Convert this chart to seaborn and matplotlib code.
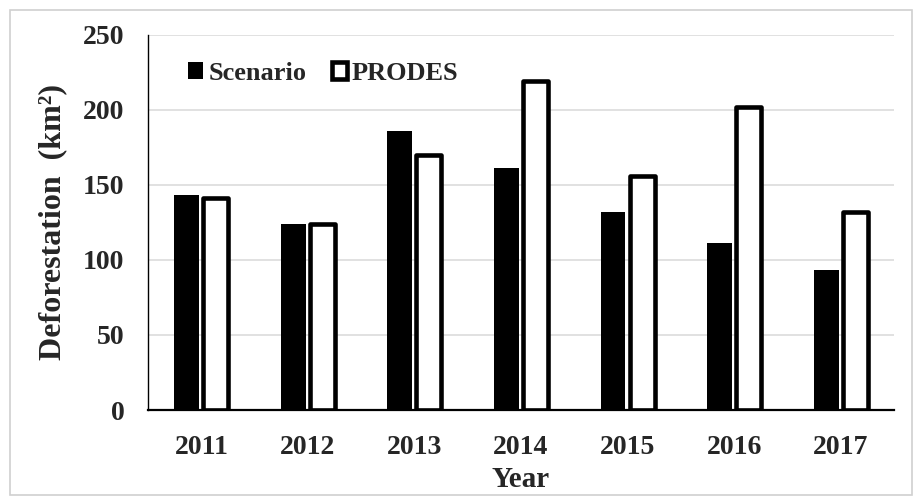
import matplotlib
matplotlib.use("Agg")
import matplotlib.pyplot as plt
import seaborn as sns
import pandas as pd
from matplotlib.patches import Rectangle

years = ["2011", "2012", "2013", "2014", "2015", "2016", "2017"]
scenario = [143, 124, 186, 161, 132, 111, 93]
prodes = [141, 124, 170, 219, 156, 202, 132]
series_names = ["Scenario", "PRODES"]
y_ticks = [0, 50, 100, 150, 200, 250]

df = pd.DataFrame({
    "Year": years * 2,
    "Value": scenario + prodes,
    "Series": [series_names[0]] * len(years) + [series_names[1]] * len(years),
})

sns.set_theme(style="white")
plt.rcParams["font.family"] = ["Liberation Serif", "DejaVu Serif"]
plt.rcParams["font.weight"] = "bold"

fig = plt.figure(figsize=(9.14, 4.97), dpi=100)
ax = fig.add_axes([0.162, 0.175, 0.816, 0.755])

sns.barplot(data=df, x="Year", y="Value", hue="Series", order=years,
            hue_order=series_names,
            palette={"Scenario": "black", "PRODES": "white"},
            width=0.545, gap=0.14, ax=ax, legend=False, linewidth=0,
            saturation=1)

for p in ax.containers[0].patches:
    p.set_edgecolor("black")
    p.set_linewidth(0)
for p in ax.containers[1].patches:
    p.set_edgecolor("black")
    p.set_linewidth(3.3)
    p.set_joinstyle("round")
    p.set_zorder(3)

ax.set_ylim(0, 250)
ax.set_yticks(y_ticks)
ax.set_xlim(-0.5, len(years) - 0.5)
ax.yaxis.grid(True, color="#d9d9d9", linewidth=1.1)
ax.set_axisbelow(True)
for s in ["top", "right"]:
    ax.spines[s].set_visible(False)
ax.spines["left"].set_color("black")
ax.spines["left"].set_linewidth(1.0)
ax.spines["bottom"].set_color("black")
ax.spines["bottom"].set_linewidth(1.6)
ax.spines["bottom"].set_zorder(4)
ax.tick_params(axis="both", length=0, labelsize=20)
ax.tick_params(axis="y", pad=17)
ax.tick_params(axis="x", pad=18)
for lbl in ax.get_xticklabels() + ax.get_yticklabels():
    lbl.set_fontweight("bold")

ax.set_xlabel("Year", fontsize=21, fontweight="bold", labelpad=4)
ax.set_ylabel("Deforestation  (km\u00b2)", fontsize=23, fontweight="bold", labelpad=11)

handles = [ax.containers[0].patches[0], ax.containers[1].patches[0]]
leg = ax.legend(handles, series_names, loc="center left", bbox_to_anchor=(0.054, 0.897),
                ncol=2, frameon=False, handlelength=0.57, handleheight=0.6,
                handletextpad=0.2, columnspacing=0.95, borderpad=0, borderaxespad=0,
                prop={"family": "Liberation Serif", "weight": "bold", "size": 19})

fig.patches.append(Rectangle((10 / 914, 2 / 497), 902 / 914, 485 / 497,
                             transform=fig.transFigure, fill=False,
                             edgecolor="#d0d0d0", linewidth=1.2))

fig.savefig("out.png", dpi=100)
